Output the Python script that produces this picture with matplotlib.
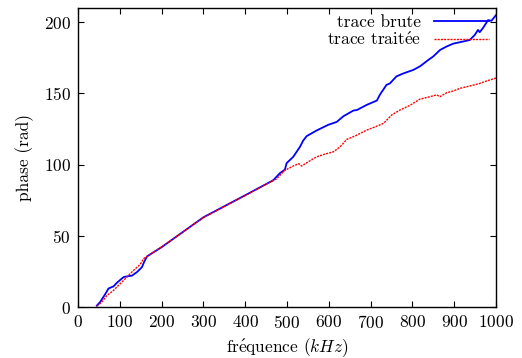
import matplotlib
matplotlib.use("Agg")
import matplotlib.pyplot as plt
import numpy as np

plt.rcParams['font.family'] = ['cmr10', 'DejaVu Serif']
plt.rcParams['mathtext.fontset'] = 'cm'
plt.rcParams['axes.formatter.use_mathtext'] = True

freq_brute = [45, 53, 65, 73, 85, 93, 109, 117, 129, 141, 153, 158, 165, 200, 300, 400,
              467, 483, 495, 499, 515, 531, 539, 547, 571, 599, 619, 635, 659, 667, 691,
              715, 722, 738, 746, 762, 778, 802, 818, 838, 850, 866, 882, 898, 922, 937,
              949, 957, 961, 969, 981, 989, 1000]
phase_brute = [1, 3.5, 9, 13, 14.5, 17, 21, 21.5, 22, 24.5, 28, 31.5, 35.5, 42, 63, 78.5,
               89, 94, 96.5, 101, 105.5, 112.5, 117, 120, 124, 128, 130, 134, 138, 138.3, 142,
               145, 149, 156, 157, 162, 164, 166.5, 169, 173.5, 176, 180.5, 183, 185, 186.5, 187.5,
               191, 194.6, 193, 196, 201.5, 201, 205]

freq_traitee = [45, 57, 69, 85, 101, 117, 133, 149, 157, 169, 200, 300, 400, 475, 495, 515,
                528, 535, 551, 571, 591, 611, 627, 643, 667, 691, 715, 731, 751, 770, 794,
                818, 842, 858, 866, 882, 898, 914, 937, 961, 977, 1000]
phase_traitee = [0.5, 3.5, 8, 11.7, 16.4, 21, 25.8, 30, 34, 36.3, 42.2, 62.8, 78.3, 90, 96, 99,
                 100.7, 99, 102, 105.5, 107.4, 109, 112.5, 117.7, 120.7, 124.3, 127, 129, 135, 138.3, 141.6,
                 146, 147.7, 149, 147.7, 150.5, 151.7, 153.6, 155.2, 157, 158.7, 160.8]

fig = plt.figure(figsize=(5.22, 3.58), dpi=100)
ax = fig.add_axes([78/522, 1 - 307/358, 418/522, 299/358])

ax.plot(freq_brute, phase_brute, color='#0000ff', lw=1.3, label='trace brute')
ax.plot(freq_traitee, phase_traitee, color='#ff0000', lw=1.0, linestyle=(0, (1.5, 0.8)),
        label=r'trace trait$\acute{\mathrm{e}}$e')

ax.set_xlim(0, 1000)
ax.set_ylim(0, 210)
ax.set_xticks(np.arange(0, 1001, 100))
ax.set_yticks(np.arange(0, 201, 50))
ax.tick_params(direction='in', top=True, right=True, labelsize=12.5, length=4, width=0.8, pad=5)
for s in ax.spines.values():
    s.set_linewidth(1.0)

ax.set_xlabel(r'fr$\acute{\mathrm{e}}$quence ($kHz$)', fontsize=12.5, labelpad=4)
ax.set_ylabel('phase (rad)', fontsize=12.5, labelpad=7)

leg = ax.legend(loc='upper right', frameon=False, fontsize=12.5, markerfirst=False,
                handlelength=3.2, borderaxespad=0.3, labelspacing=0.0, handletextpad=0.7,
                borderpad=0.1)
for t in leg.get_texts():
    t.set_ha('right')

fig.savefig('out.png', dpi=100)
